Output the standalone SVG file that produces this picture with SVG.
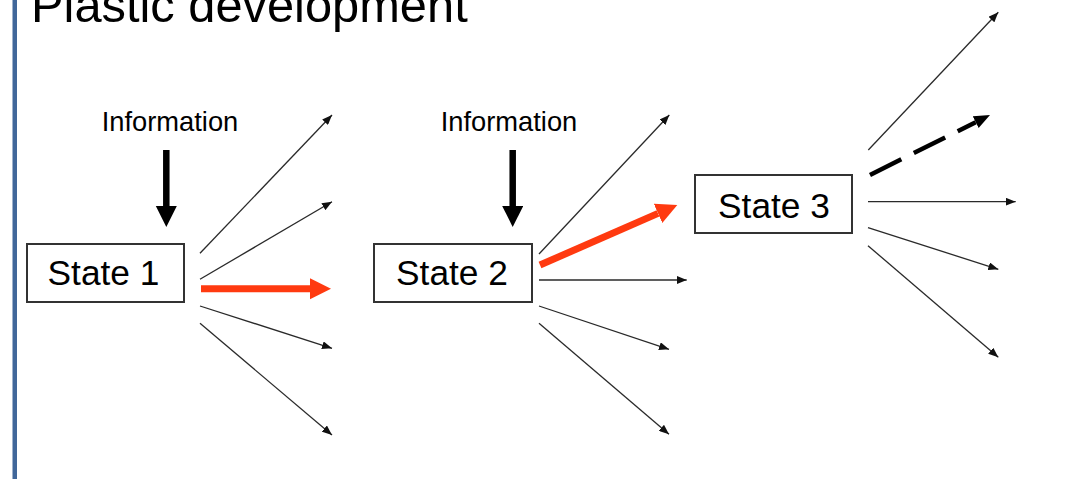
<svg xmlns="http://www.w3.org/2000/svg" width="1069" height="479" viewBox="0 0 1069 479">
<defs>
<style>
.t{font-family:"Liberation Sans",Arial,sans-serif;fill:#000}
.box{fill:#fff;stroke:#333;stroke-width:2}
.thin{stroke:#2a2a2a;stroke-width:1.3;fill:none;marker-end:url(#ah)}
.red{stroke:#ff3a10;stroke-width:7;fill:none;marker-end:url(#rh)}
.blk{stroke:#000;stroke-width:6.5;fill:none;marker-end:url(#bh)}
.dash{stroke:#000;stroke-width:4.5;fill:none;stroke-dasharray:35 14;marker-end:url(#dh)}
</style>
<marker id="ah" markerUnits="userSpaceOnUse" markerWidth="11" markerHeight="8" refX="10" refY="4" orient="auto"><path d="M0,0 L10,4 L0,8 z" fill="#111"/></marker>
<marker id="rh" markerUnits="userSpaceOnUse" markerWidth="22" markerHeight="22" refX="0" refY="10.5" orient="auto"><path d="M0,0 L21,10.5 L0,21 z" fill="#ff3a10"/></marker>
<marker id="bh" markerUnits="userSpaceOnUse" markerWidth="22" markerHeight="22" refX="0" refY="10.5" orient="auto"><path d="M0,0 L21,10.5 L0,21 z" fill="#000"/></marker>
<marker id="dh" markerUnits="userSpaceOnUse" markerWidth="17" markerHeight="14" refX="0" refY="6.5" orient="auto"><path d="M0,0 L16,6.5 L0,13 z" fill="#000"/></marker>
</defs>
<rect x="0" y="0" width="1069" height="479" fill="#fff"/>
<rect x="12.5" y="0" width="4.5" height="479" fill="#41679a"/>
<text class="t" x="31" y="22" font-size="48.8">Plastic development</text>

<g id="info1">
<text class="t" x="170" y="130.5" font-size="27.3" text-anchor="middle" fill="#111">Information</text>
</g>
<g id="info2">
<text class="t" x="509" y="130.5" font-size="27.3" text-anchor="middle" fill="#111">Information</text>
</g>

<g id="state1">
<rect class="box" x="27" y="244" width="157" height="58"/>
<text class="t" x="103.5" y="285" font-size="35.3" text-anchor="middle">State 1</text>
</g>
<g id="state2">
<rect class="box" x="374" y="244" width="158" height="58"/>
<text class="t" x="452" y="285" font-size="35.3" text-anchor="middle">State 2</text>
</g>
<g id="state3">
<rect class="box" x="695" y="175" width="157" height="58"/>
<text class="t" x="774" y="218" font-size="35.3" text-anchor="middle">State 3</text>
</g>

<g id="connectors">
<line class="blk" x1="166.3" y1="150" x2="166.3" y2="206"/>
<line class="blk" x1="512.7" y1="150" x2="512.7" y2="206"/>

<line class="thin" x1="200" y1="253.3" x2="332" y2="115"/>
<line class="thin" x1="200" y1="279.3" x2="332" y2="201.7"/>
<line class="red" x1="201" y1="288.7" x2="310" y2="288.7"/>
<line class="thin" x1="200" y1="306" x2="332" y2="348.3"/>
<line class="thin" x1="200" y1="323.3" x2="332" y2="435"/>

<line class="thin" x1="539" y1="254" x2="669.3" y2="115"/>
<line class="red" x1="540" y1="265" x2="658.05" y2="213.4"/>
<line class="thin" x1="539" y1="280" x2="686.7" y2="280"/>
<line class="thin" x1="539" y1="306" x2="669" y2="349.3"/>
<line class="thin" x1="539" y1="323.3" x2="669" y2="434.3"/>

<line class="thin" x1="868.3" y1="150" x2="998.3" y2="12.3"/>
<line class="dash" x1="870" y1="175" x2="975.7" y2="122.2"/>
<line class="thin" x1="868" y1="201.7" x2="1015.7" y2="201.7"/>
<line class="thin" x1="868" y1="227.7" x2="998.3" y2="269.3"/>
<line class="thin" x1="868" y1="245.7" x2="998.3" y2="357.3"/>
</g>
</svg>
